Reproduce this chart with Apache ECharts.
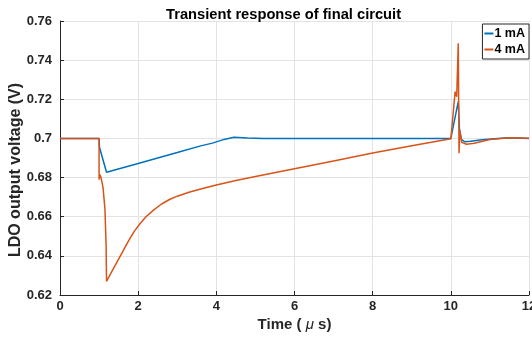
<!DOCTYPE html>
<html lang="en">
<head>
    <meta charset="UTF-8">
    <title>Transient response</title>
</head>
<body style="margin:0">
<div id="main" style="width: 532px;height:339px;"></div>

<script src="https://cdn.jsdelivr.net/npm/echarts@6/dist/echarts.min.js"></script>

<script type="text/javascript">
    // 1 mA load step
    var timeBlue = [0, 1.0, 1.01, 1.19, 2.0, 3.0, 3.6, 3.9, 4.2, 4.45, 4.8, 5.2, 10.0, 10.19, 10.22, 10.27, 10.36, 10.5, 10.8, 11.2, 11.5, 12];
    var voltBlue = [0.7, 0.7, 0.6955, 0.6827, 0.6872, 0.6928, 0.6962, 0.6976, 0.6995, 0.7006, 0.7002, 0.700, 0.700, 0.7188, 0.705, 0.6995, 0.6983, 0.6985, 0.6993, 0.7, 0.7004, 0.7];

    // 4 mA load step
    var timeOrange = [0, 1.0, 1.0, 1.02, 1.05, 1.1, 1.15, 1.18, 1.19, 1.3, 1.45, 1.6, 1.75, 1.9, 2.05, 2.2, 2.4, 2.6, 2.8, 3.0, 3.3, 3.6, 4.0, 4.5, 5.0, 6.0, 7.0, 8.0, 9.0, 9.5, 10.0, 10.11, 10.15, 10.19, 10.21, 10.23, 10.28, 10.4, 10.6, 11.0, 11.5, 12];
    var voltOrange = [0.7, 0.7, 0.679, 0.6815, 0.680, 0.675, 0.664, 0.645, 0.627, 0.631, 0.6365, 0.642, 0.6475, 0.6525, 0.6565, 0.660, 0.6635, 0.6665, 0.6688, 0.6705, 0.6725, 0.6742, 0.6762, 0.6785, 0.6805, 0.6845, 0.6885, 0.6925, 0.6963, 0.698, 0.6998, 0.7239, 0.7213, 0.7486, 0.6924, 0.704, 0.698, 0.697, 0.6975, 0.6995, 0.7004, 0.7001];

    var xTicks = [0, 2, 4, 6, 8, 10, 12];
    var yTicks = [0.62, 0.64, 0.66, 0.68, 0.7, 0.72, 0.74, 0.76];

    function pairs(ts, vs) {
        var out = [];
        for (var i = 0; i < ts.length; i++) {
            out.push([ts[i], vs[i]]);
        }
        return out;
    }

    var myChart = echarts.init(document.getElementById('main'));

    var axisColor = '#262626';
    var fontFam = '"Liberation Sans", Arial, Helvetica, sans-serif';

    var option = {
        animation: false,
        backgroundColor: '#ffffff',
        title: {
            text: 'Transient response of final circuit',
            left: 161,
            top: 2,
            textStyle: {fontSize: 14.7, fontWeight: 'bold', color: '#000', fontFamily: fontFam}
        },
        legend: {
            orient: 'vertical',
            right: 3,
            top: 24,
            data: ['1 mA', '4 mA'],
            icon: 'rect',
            backgroundColor: '#fff',
            borderColor: axisColor,
            borderWidth: 1,
            borderRadius: 0,
            padding: [3, 4, 3, 2],
            itemGap: 3,
            itemWidth: 9,
            itemHeight: 2,
            textStyle: {fontSize: 12.5, fontWeight: 'bold', color: '#000', fontFamily: fontFam, padding: [0, 0, 0, -4]}
        },
        grid: {left: 60, right: 3, top: 21, bottom: 44, containLabel: false, outerBoundsMode: 'none'},
        xAxis: {
            type: 'value',
            min: 0,
            max: 12,
            interval: 2,
            name: 'Time ( {mu|μ} s)',
            nameLocation: 'middle',
            nameGap: 22,
            nameMoveOverlap: false,
            nameTextStyle: {
                fontSize: 15, fontWeight: 'bold', color: axisColor, fontFamily: fontFam,
                rich: {mu: {fontSize: 15, fontStyle: 'italic', fontWeight: 'normal', color: axisColor, fontFamily: fontFam}}
            },
            axisLine: {onZero: false, lineStyle: {color: axisColor, width: 1}},
            axisTick: {inside: true, length: 4, lineStyle: {color: axisColor}},
            axisLabel: {
                margin: 5, fontSize: 13, fontWeight: 'bold', color: axisColor, fontFamily: fontFam,
                formatter: function (v) { return xTicks.indexOf(v) >= 0 ? String(v) : ''; }
            },
            splitLine: {show: true, lineStyle: {color: '#e3e3e3', width: 1}}
        },
        yAxis: {
            type: 'value',
            min: 0.62,
            max: 0.76,
            interval: 0.02,
            name: 'LDO output voltage (V)',
            nameLocation: 'middle',
            nameGap: 36,
            nameMoveOverlap: false,
            nameTextStyle: {fontSize: 16, fontWeight: 'bold', color: axisColor, fontFamily: fontFam, padding: [0, 24, 0, 0]},
            axisLine: {show: true, lineStyle: {color: axisColor, width: 1}},
            axisTick: {show: true, inside: true, length: 4, lineStyle: {color: axisColor}},
            axisLabel: {
                margin: 8, fontSize: 13, fontWeight: 'bold', color: axisColor, fontFamily: fontFam,
                formatter: function (v) {
                    var r = Math.round(v * 100) / 100;
                    return String(r);
                }
            },
            splitLine: {show: true, lineStyle: {color: '#e3e3e3', width: 1}}
        },
        series: [
            {
                name: '1 mA',
                type: 'line',
                data: pairs(timeBlue, voltBlue),
                symbol: 'none',
                smooth: false,
                lineStyle: {color: '#0072BD', width: 1.5},
                itemStyle: {color: '#0072BD'}
            },
            {
                name: '4 mA',
                type: 'line',
                data: pairs(timeOrange, voltOrange),
                symbol: 'none',
                smooth: false,
                lineStyle: {color: '#D95319', width: 1.5},
                itemStyle: {color: '#D95319'}
            }
        ]
    };
    myChart.setOption(option);
</script>
</body>
</html>
